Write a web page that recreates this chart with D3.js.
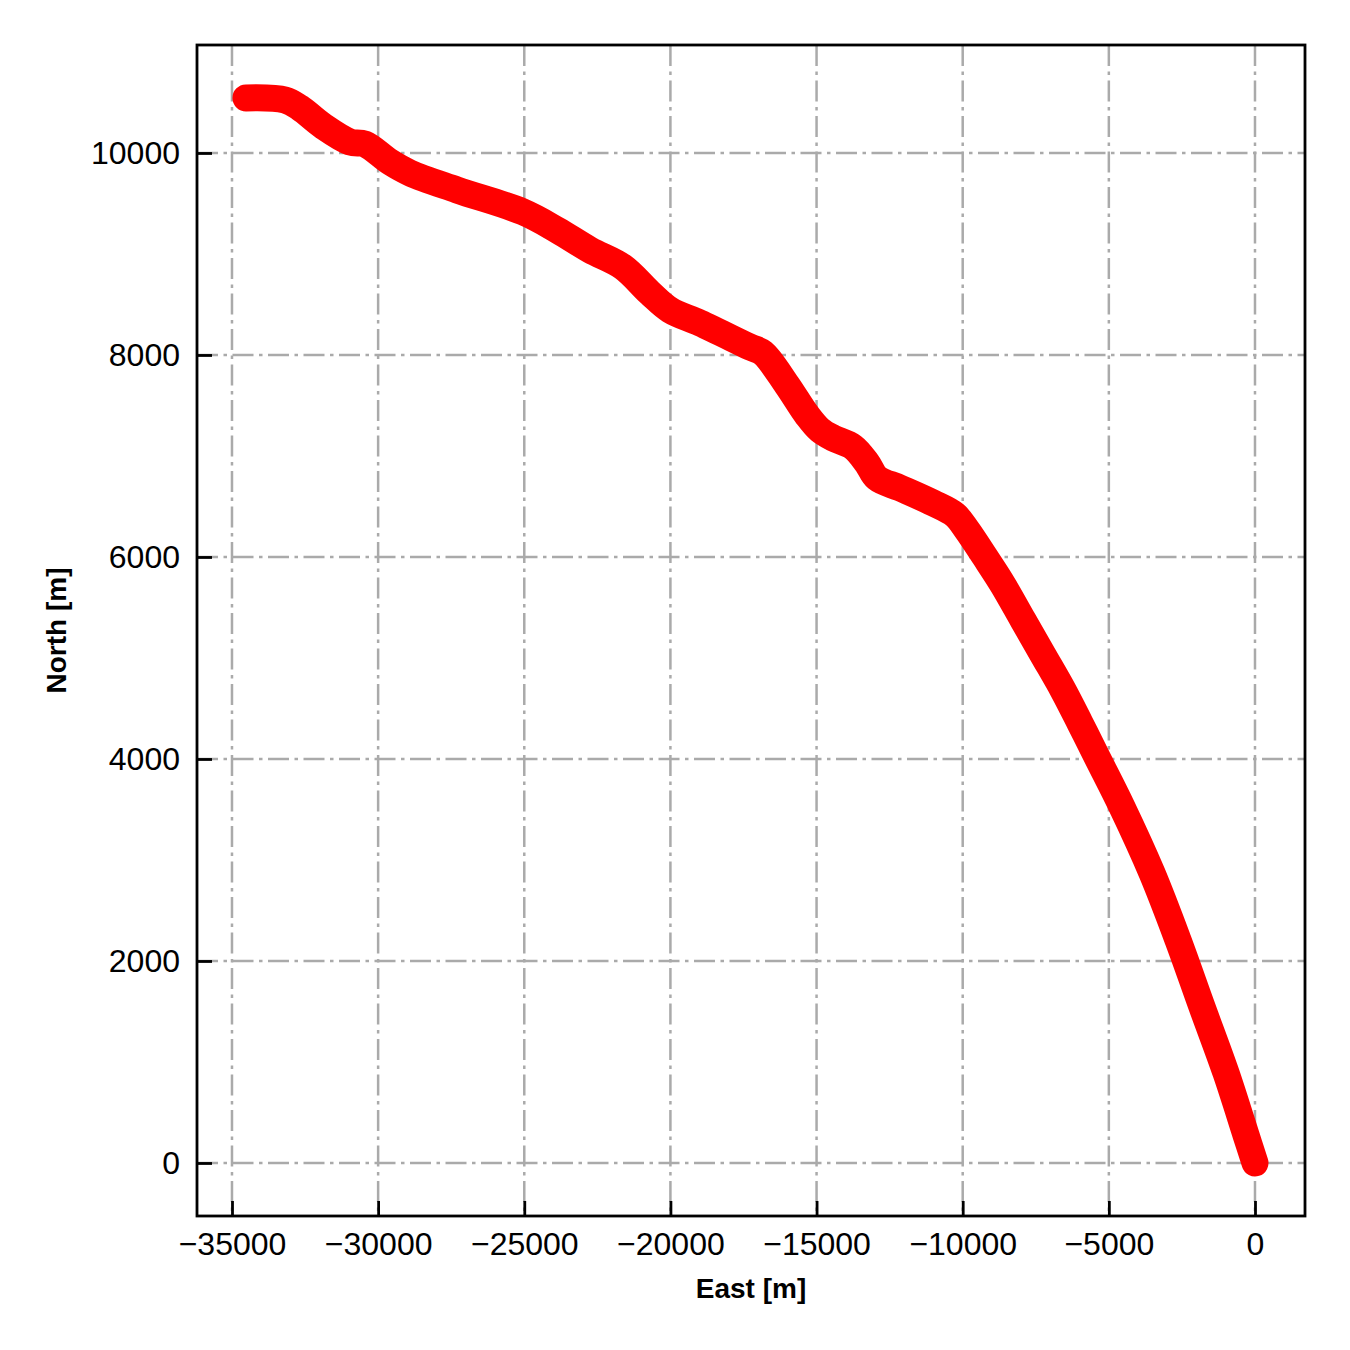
<!DOCTYPE html>
<html>
<head>
<meta charset="utf-8">
<script src="https://cdn.jsdelivr.net/npm/d3@7"></script>
<style>
  html, body { margin: 0; padding: 0; background: #fff; }
  text { font-family: "Liberation Sans", Arial, sans-serif; }
</style>
</head>
<body>
<svg id="chart" width="1350" height="1350"></svg>
<script>
// Trajectory (East [m], North [m])
const east  = [-34522, -33188, -32674, -31887, -30964, -30450, -29595, -28911, -27303, -25045,
               -23881, -22752, -21623, -20699, -20015, -18989, -17278, -16833, -16012, -15328,
               -14883, -14438, -13754, -13275, -12933, -12146, -11017, -10264, -9854, -9238,
               -8622, -7938, -7253, -6569, -5987, -5406, -4550, -3524, -2634, -1813,
               -992, -308, 0];
const north = [10545, 10525, 10446, 10267, 10109, 10089, 9911, 9802, 9634, 9416,
               9238, 9040, 8871, 8614, 8446, 8317, 8079, 8020, 7703, 7406,
               7257, 7178, 7089, 6931, 6782, 6683, 6535, 6416, 6267, 6000,
               5723, 5376, 5030, 4683, 4356, 4020, 3525, 2871, 2208, 1545,
               891, 277, 0];
const xTicks = [-35000, -30000, -25000, -20000, -15000, -10000, -5000, 0];
const yTicks = [0, 2000, 4000, 6000, 8000, 10000];
const xLabel = "East [m]";
const yLabel = "North [m]";

const svg = d3.select("#chart");
const L = 197, R = 1305, T = 45, B = 1216;

const x = d3.scaleLinear().domain([-36197, 1711]).range([L, R]);
const y = d3.scaleLinear().domain([-525, 11069]).range([B, T]);

svg.append("rect").attr("width", 1350).attr("height", 1350).attr("fill", "#fff");

// grid
const grid = svg.append("g");
grid.selectAll(".gx").data(xTicks).join("line")
  .attr("x1", d => x(d)).attr("x2", d => x(d)).attr("y1", T).attr("y2", B)
  .attr("stroke", "#aaaaaa").attr("stroke-width", 2.5).attr("stroke-dasharray", "21,5.5,3.5,5.5");
grid.selectAll(".gy").data(yTicks).join("line")
  .attr("y1", d => y(d)).attr("y2", d => y(d)).attr("x1", L).attr("x2", R)
  .attr("stroke", "#aaaaaa").attr("stroke-width", 2.5).attr("stroke-dasharray", "21,5.5,3.5,5.5");

// data
const pts = east.map((e, i) => [e, north[i]]);
const line = d3.line().x(d => x(d[0])).y(d => y(d[1])).curve(d3.curveCatmullRom.alpha(0.5));
svg.append("path").datum(pts).attr("d", line)
  .attr("fill", "none").attr("stroke", "#ff0000").attr("stroke-width", 27)
  .attr("stroke-linecap", "round").attr("stroke-linejoin", "round");

// axes (ticks inward)
const xAxis = d3.axisBottom(x).tickValues(xTicks).tickSizeInner(-15).tickSizeOuter(0)
  .tickPadding(16).tickFormat(d => d3.format("d")(d).replace("-", "\u2212"));
const gx = svg.append("g").attr("transform", `translate(0,${B})`).call(xAxis);
const yAxis = d3.axisLeft(y).tickValues(yTicks).tickSizeInner(-15).tickSizeOuter(0)
  .tickPadding(17).tickFormat(d3.format("d"));
const gy = svg.append("g").attr("transform", `translate(${L},0)`).call(yAxis);
[gx, gy].forEach(g => {
  g.select(".domain").remove();
  g.selectAll(".tick line").attr("stroke", "#000").attr("stroke-width", 2.8);
  g.selectAll(".tick text").attr("fill", "#000").style("font-size", "32px")
    .style("font-family", "'Liberation Sans', Arial, sans-serif");
});

// frame
svg.append("rect").attr("x", L).attr("y", T).attr("width", R - L).attr("height", B - T)
  .attr("fill", "none").attr("stroke", "#000").attr("stroke-width", 2.8);

// labels
svg.append("text").attr("x", (L + R) / 2).attr("y", 1298).attr("text-anchor", "middle")
  .style("font-size", "28px").style("font-weight", "bold").text(xLabel);
svg.append("text").attr("transform", `translate(66,${(T + B) / 2}) rotate(-90)`)
  .attr("text-anchor", "middle").style("font-size", "28px").style("font-weight", "bold").text(yLabel);
</script>
</body>
</html>
